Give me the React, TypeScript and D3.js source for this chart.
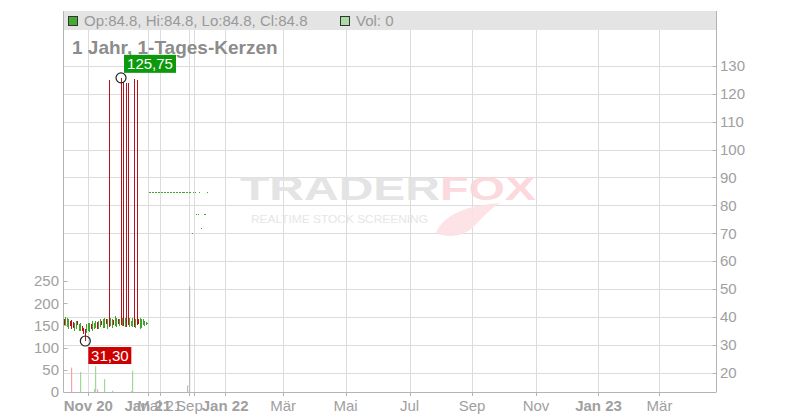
import React from "react";
import * as d3 from "d3";

// Traded candles (index 0..56)
const opens = [38.8, 37.0, 36.5, 35.8, 38.2, 38.3, 37.6, 35.3, 35.9, 38.2, 35.2, 35.3, 36.4, 35.8, 35.2, 34.6, 35.2, 34.8, 37.0, 35.3, 36.0, 36.4, 38.0, 35.8, 36.8, 38.2, 36.4, 36.4, 38.9, 35.9, 125.0, 37.0, 36.4, 38.4, 37.0, 36.5, 38.8, 37.0, 125.75, 37.0, 124.2, 36.8, 123.8, 124.0, 36.5, 37.0, 36.5, 125.3, 36.2, 125.0, 38.8, 36.0, 36.4, 37.2, 37.1, 37.3, 37.5];
const highs = [39.2, 40.0, 39.7, 39.1, 38.6, 38.7, 38.0, 37.9, 38.5, 38.6, 37.3, 37.9, 36.8, 36.1, 35.5, 37.3, 37.9, 37.8, 37.3, 38.5, 37.9, 38.5, 38.3, 38.6, 39.1, 38.5, 39.2, 39.7, 39.2, 39.1, 125.0, 39.7, 39.2, 38.7, 40.3, 39.7, 39.1, 39.2, 125.75, 39.7, 124.2, 39.7, 123.8, 124.0, 39.7, 38.6, 39.7, 125.3, 39.1, 125.0, 39.1, 39.4, 39.1, 39.1, 38.5, 38.0, 37.8];
const lows = [37.0, 36.8, 36.2, 35.5, 36.8, 35.5, 36.1, 35.0, 35.6, 37.1, 34.9, 35.0, 35.0, 33.8, 31.3, 34.3, 34.9, 34.5, 35.7, 35.0, 35.7, 36.1, 35.6, 35.5, 36.5, 37.0, 36.1, 36.1, 37.3, 35.6, 36.5, 36.7, 36.1, 37.1, 36.7, 36.2, 37.5, 36.7, 37.0, 36.7, 36.6, 36.5, 36.5, 36.9, 36.2, 36.7, 36.2, 36.2, 35.9, 36.9, 37.3, 35.7, 36.1, 36.9, 36.8, 37.0, 37.3];
const closes = [37.3, 39.7, 39.4, 38.8, 37.0, 35.8, 36.4, 37.6, 38.2, 37.4, 37.0, 37.6, 35.3, 34.0, 32.3, 37.0, 37.6, 37.5, 36.0, 38.2, 37.6, 38.2, 35.9, 38.3, 38.8, 37.3, 38.9, 39.4, 37.6, 38.8, 37.0, 39.4, 38.9, 37.4, 40.0, 39.4, 37.8, 38.9, 37.5, 39.4, 37.0, 39.4, 36.8, 37.2, 39.4, 38.3, 39.4, 36.5, 38.8, 37.2, 37.6, 39.1, 38.8, 38.8, 38.2, 37.7, 37.6];

// Flat (doji) prices after the traded period, index 57..96
const flatStart = 57;
const flatPrices: (number | null)[] = [84.8, 84.8, 84.8, 84.8, 84.8, 84.8, 84.8, 84.8, 84.8, 84.8, 84.8, 84.8, 84.8, 84.8, 84.8, 84.8, 84.8, 84.8, 84.8, 84.8, 84.8, 84.8, 84.8, 84.8, 84.8, 84.8, 84.8, 84.8, 84.8, 69.9, 84.8, 84.8, 76.8, 76.8, 84.8, 71.7, null, 76.8, 76.8, 84.8];

// Volumes (sparse)
const volumeIndex = [5, 11, 20, 21, 22, 27, 32, 45, 46, 83, 84];
const volumeValues = [55, 45, 7, 58, 6, 29, 3, 2, 48, 15, 238];

// X axis ticks (candle-index based axis)
const tickLabels = ["Nov 20", "Jan 21", "Mai 21", "Sep", "", "Jan 22", "Mär", "Mai", "Jul", "Sep", "Nov", "Jan 23", "Mär"];
const tickIndex = [16, 56, 64, 84, 87, 108, 147, 189, 232, 274, 317, 359, 400];
const tickBold = [true, true, false, false, false, true, false, false, false, false, false, true, false];

const priceTicks = [20, 30, 40, 50, 60, 70, 80, 90, 100, 110, 120, 130];
const volumeTicks = [0, 50, 100, 150, 200, 250];

const highIdx = 38;
const lowIdx = 14;

const FONT = "'Liberation Sans', Arial, sans-serif";
const UP = "#3fa52a";
const DOWN = "#b5121b";

export default function App() {
  const left = 63.5, right = 716.5, top = 30, bottom = 392;
  const x = d3.scaleLinear().domain([0, 438]).range([64.5, 716]);
  const y = d3.scaleLinear().domain([20, 130]).range([372.5, 66]);
  const yv = d3.scaleLinear().domain([0, 250]).range([bottom, 281]);

  const n = opens.length;
  const last = flatPrices[flatPrices.length - 1] as number;
  const fmt = (v: number) => d3.format(".2f")(v).replace(".", ",");

  const hx = x(highIdx), hy = y(highs[highIdx]);
  const lx = x(lowIdx), ly = y(lows[lowIdx]);

  const candleDir = (i: number) => {
    if (i < n) return closes[i] > opens[i] ? 1 : closes[i] < opens[i] ? -1 : 0;
    return 0;
  };

  return (
    <svg width={800} height={420} style={{ position: "absolute", left: 0, top: 0, background: "#fff" }} fontFamily={FONT}>
      {/* grid */}
      {priceTicks.map((p) => (
        <line key={"hg" + p} x1={left} x2={right} y1={Math.round(y(p)) + 0.5} y2={Math.round(y(p)) + 0.5} stroke="#dcdcdc" />
      ))}
      {tickIndex.map((t, k) => (
        <line key={"vg" + k} x1={Math.round(x(t)) + 0.5} x2={Math.round(x(t)) + 0.5} y1={top} y2={bottom} stroke="#dcdcdc" />
      ))}

      {/* watermark */}
      <g opacity={0.9}>
        <text x={240} y={200} fontSize={33} fontWeight="bold" fill="#e2e2e2" textLength={200} lengthAdjust="spacingAndGlyphs">TRADER</text>
        <text x={440} y={200} fontSize={33} fontWeight="bold" fill="#fbd5da" textLength={96} lengthAdjust="spacingAndGlyphs">FOX</text>
        <path d="M436,233 C444,214 468,205 500,203 C487,211 480,221 471,229 C461,237 446,238 436,233 Z" fill="#fde1e4" />
        <text x={251} y={223} fontSize={10} fill="#e4e4e4" textLength={177} lengthAdjust="spacingAndGlyphs">REALTIME STOCK SCREENING</text>
      </g>

      {/* header */}
      <rect x={63} y={11} width={653} height={19} fill="#e4e4e4" />
      <rect x={68.5} y={16.5} width={9} height={9} fill="#44aa33" stroke="#333" />
      <text x={84} y={26} fontSize={15} fill="#999">
        {`Op:${last}, Hi:${last}, Lo:${last}, Cl:${last}`}
      </text>
      <rect x={340.5} y={16.5} width={9} height={9} fill="#aadaa6" stroke="#333" />
      <text x={356} y={26} fontSize={15} fill="#999">Vol: 0</text>

      <text x={72} y={54} fontSize={19} fontWeight="bold" fill="#8c8c8c">1 Jahr, 1-Tages-Kerzen</text>

      {/* volume bars */}
      {volumeIndex.map((vi, k) => {
        const d = candleDir(vi);
        const c = d > 0 ? "#9fd897" : d < 0 ? "#f3a3ab" : "#bdbdbd";
        const top2 = yv(volumeValues[k]);
        return <rect key={"v" + k} x={Math.floor(x(vi))} y={top2} width={1.2} height={bottom - top2} fill={c} />;
      })}

      {/* candles */}
      {opens.map((o, i) => {
        const c = closes[i];
        const col = c >= o ? UP : DOWN;
        const cx = Math.floor(x(i));
        const yt = y(Math.max(o, c));
        const yb = y(Math.min(o, c));
        return (
          <g key={"c" + i} shapeRendering="crispEdges">
            <rect x={cx} y={y(highs[i])} width={1} height={y(lows[i]) - y(highs[i])} fill={col} />
            <rect x={cx} y={yt} width={1.4} height={Math.max(1, yb - yt)} fill={col} />
          </g>
        );
      })}
      {flatPrices.map((p, k) =>
        p == null ? null : (
          <rect key={"f" + k} x={Math.floor(x(flatStart + k))} y={Math.round(y(p))} width={1.2} height={1} fill={UP} shapeRendering="crispEdges" />
        )
      )}

      {/* axes */}
      <line x1={left} x2={left} y1={11} y2={bottom} stroke="#b4b4b4" />
      <line x1={right} x2={right} y1={11} y2={bottom} stroke="#b4b4b4" />
      <line x1={left} x2={right} y1={bottom + 0.5} y2={bottom + 0.5} stroke="#b4b4b4" />

      {priceTicks.map((p) => (
        <g key={"pt" + p}>
          <line x1={right - 4} x2={right} y1={Math.round(y(p)) + 0.5} y2={Math.round(y(p)) + 0.5} stroke="#b4b4b4" />
          <text x={720} y={y(p)} dy="0.36em" fontSize={15} fill="#a0a0a0">{p}</text>
        </g>
      ))}
      {volumeTicks.map((v) => (
        <g key={"vt" + v}>
          <line x1={left} x2={left + 4} y1={Math.round(yv(v)) + 0.5} y2={Math.round(yv(v)) + 0.5} stroke="#b4b4b4" />
          <text x={59} y={yv(v)} dy="0.36em" fontSize={15} fill="#a0a0a0" textAnchor="end">{v}</text>
        </g>
      ))}
      {tickIndex.map((t, k) => (
        <g key={"xt" + k}>
          <line x1={Math.round(x(t)) + 0.5} x2={Math.round(x(t)) + 0.5} y1={bottom} y2={bottom + 4} stroke="#b4b4b4" />
          <text x={x(t)} y={411} fontSize={15} fill="#a0a0a0" textAnchor="middle" fontWeight={tickBold[k] ? "bold" : "normal"}>{tickLabels[k]}</text>
        </g>
      ))}

      {/* annotations */}
      <circle cx={hx} cy={hy} r={5} fill="none" stroke="#222" strokeWidth={1.2} />
      <rect x={hx + 3} y={hy - 23} width={52} height={18} fill="#0c990c" />
      <text x={hx + 29} y={hy - 9} fontSize={15} fill="#fff" textAnchor="middle">{fmt(highs[highIdx])}</text>

      <circle cx={lx} cy={ly} r={5} fill="none" stroke="#222" strokeWidth={1.2} />
      <rect x={lx + 3} y={ly + 6} width={43} height={17} fill="#cc0000" />
      <text x={lx + 24.5} y={ly + 20} fontSize={15} fill="#fff" textAnchor="middle">{fmt(lows[lowIdx])}</text>
    </svg>
  );
}
